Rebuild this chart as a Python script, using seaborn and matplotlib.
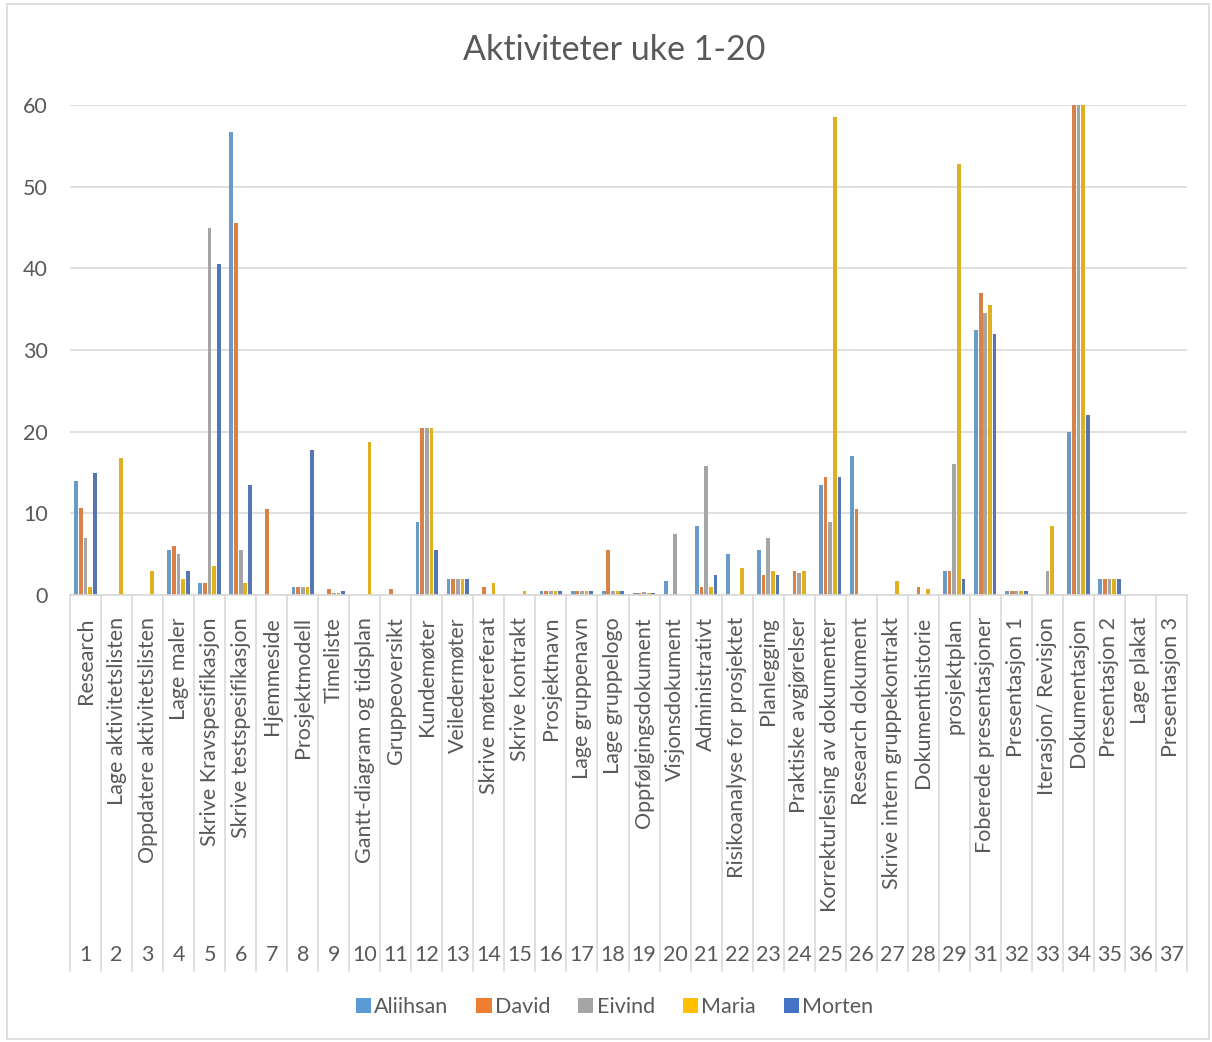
import matplotlib
matplotlib.use("Agg")
import matplotlib.pyplot as plt
from matplotlib.patches import Patch, Rectangle
import seaborn as sns
import pandas as pd

# Activity numbers and names (outer / inner category levels)
numbers = [str(n) for n in list(range(1, 30)) + list(range(31, 38))]
activities = [
    "Research", "Lage aktivitetslisten", "Oppdatere aktivitetslisten", "Lage maler",
    "Skrive Kravspesifikasjon", "Skrive testspesifikasjon", "Hjemmeside", "Prosjektmodell",
    "Timeliste", "Gantt-diagram og tidsplan", "Gruppeoversikt", "Kundemøter",
    "Veiledermøter", "Skrive møtereferat", "Skrive kontrakt", "Prosjektnavn",
    "Lage gruppenavn", "Lage gruppelogo", "Oppfølgingsdokument", "Visjonsdokument",
    "Administrativt", "Risikoanalyse for prosjektet", "Planlegging", "Praktiske avgjørelser",
    "Korrekturlesing av dokumenter", "Research dokument", "Skrive intern gruppekontrakt",
    "Dokumenthistorie", "prosjektplan", "Foberede presentasjoner", "Presentasjon 1",
    "Iterasjon/ Revisjon", "Dokumentasjon", "Presentasjon 2", "Lage plakat", "Presentasjon 3",
]

# Hours per person, in the order of the activities above
aliihsan = [14, 0, 0, 5.5, 1.5, 56.7, 0, 1, 0, 0, 0, 9, 2, 0, 0, 0.5, 0.5, 0.5, 0.2, 1.7,
            8.5, 5, 5.5, 0, 13.5, 17, 0, 0, 3, 32.5, 0.5, 0, 20, 2, 0, 0]
david = [10.7, 0, 0, 6, 1.5, 45.5, 10.5, 1, 0.75, 0, 0.75, 20.5, 2, 1, 0, 0.5, 0.5, 5.5, 0.2, 0,
         1, 0, 2.5, 3, 14.5, 10.5, 0, 1, 3, 37, 0.5, 0, 62, 2, 0, 0]
eivind = [7, 0, 0, 5, 45, 5.5, 0, 1, 0.25, 0, 0, 20.5, 2, 0, 0, 0.5, 0.5, 0.5, 0.4, 7.5,
          15.75, 0, 7, 2.75, 9, 0, 0, 0, 16, 34.5, 0.5, 3, 62, 2, 0, 0]
maria = [1, 16.75, 3, 2, 3.5, 1.5, 0, 1, 0.25, 18.75, 0, 20.5, 2, 1.5, 0.5, 0.5, 0.5, 0.5, 0.2, 0,
         1, 3.25, 3, 3, 58.5, 0, 1.75, 0.75, 52.75, 35.5, 0.5, 8.5, 62, 2, 0, 0]
morten = [15, 0, 0, 3, 40.5, 13.5, 0, 17.75, 0.5, 0, 0, 5.5, 2, 0, 0, 0.5, 0.5, 0.5, 0.2, 0,
          2.5, 0, 2.5, 0, 14.5, 0, 0, 0, 2, 32, 0.5, 0, 22, 2, 0, 0]

people = ["Aliihsan", "David", "Eivind", "Maria", "Morten"]
series = [aliihsan, david, eivind, maria, morten]
colors = ["#5B9BD5", "#ED7D31", "#A5A5A5", "#FFC000", "#4472C4"]

rows = []
for name, vals in zip(people, series):
    for num, v in zip(numbers, vals):
        rows.append({"nr": num, "navn": name, "timer": v})
df = pd.DataFrame(rows)

sns.set_theme(style="white")
plt.rcParams["font.family"] = ["Lato", "DejaVu Sans"]
text_color = "#595959"
grid_color = "#D9D9D9"
label_size = 15.5

W, H = 1212, 1042
fig = plt.figure(figsize=(W / 100, H / 100), dpi=100)
left_px, right_px, top_px, bottom_px = 70, 1187, 105, 595
ax = fig.add_axes([left_px / W, 1 - bottom_px / H, (right_px - left_px) / W, (bottom_px - top_px) / H])

sns.barplot(data=df, x="nr", y="timer", hue="navn", order=numbers, hue_order=people,
            palette=colors, width=0.75, gap=0.2, linewidth=0, legend=False, ax=ax)

ax.set_ylim(0, 60)
ax.set_xlim(-0.5, len(numbers) - 0.5)
ax.set_yticks(range(0, 61, 10))
ax.yaxis.grid(True, color=grid_color, linewidth=1.2)
ax.set_axisbelow(True)
for s in ["top", "right", "left"]:
    ax.spines[s].set_visible(False)
ax.spines["bottom"].set_color(grid_color)
ax.spines["bottom"].set_linewidth(1.2)
ax.tick_params(axis="y", length=0, pad=16, labelsize=label_size, labelcolor=text_color)
ax.set_xticks([])
ax.set_xlabel("")
ax.set_ylabel("")

# Two-level category axis: separators, activity names and numbers
axh = bottom_px - top_px
trans = ax.get_xaxis_transform()
for i in range(len(numbers) + 1):
    ax.plot([i - 0.5, i - 0.5], [0, -(971 - bottom_px) / axh], transform=trans,
            clip_on=False, color=grid_color, linewidth=1.2)
for i, (num, act) in enumerate(zip(numbers, activities)):
    ax.text(i, -(617 - bottom_px) / axh, act, transform=trans, rotation=90,
            ha="center", va="top", fontsize=label_size, color=text_color)
    ax.text(i, -(955 - bottom_px) / axh, num, transform=trans,
            ha="center", va="center", fontsize=label_size, color=text_color)

fig.text(0.507, 1 - 50 / H, "Aktiviteter uke 1-20", ha="center", va="center",
         fontsize=24.5, color=text_color)

handles = [Patch(facecolor=c, edgecolor="none", label=p) for c, p in zip(colors, people)]
fig.legend(handles=handles, loc="center", bbox_to_anchor=(0.507, 1 - 1007 / H), ncol=5,
           frameon=False, fontsize=label_size, labelcolor=text_color, handlelength=0.7,
           handleheight=0.7, handletextpad=0.15, columnspacing=1.3)

fig.patches.append(Rectangle((7 / W, 3 / H), 1202 / W, 1035 / H, transform=fig.transFigure,
                             fill=False, edgecolor=grid_color, linewidth=1.2))

fig.savefig("out.png", dpi=100)
